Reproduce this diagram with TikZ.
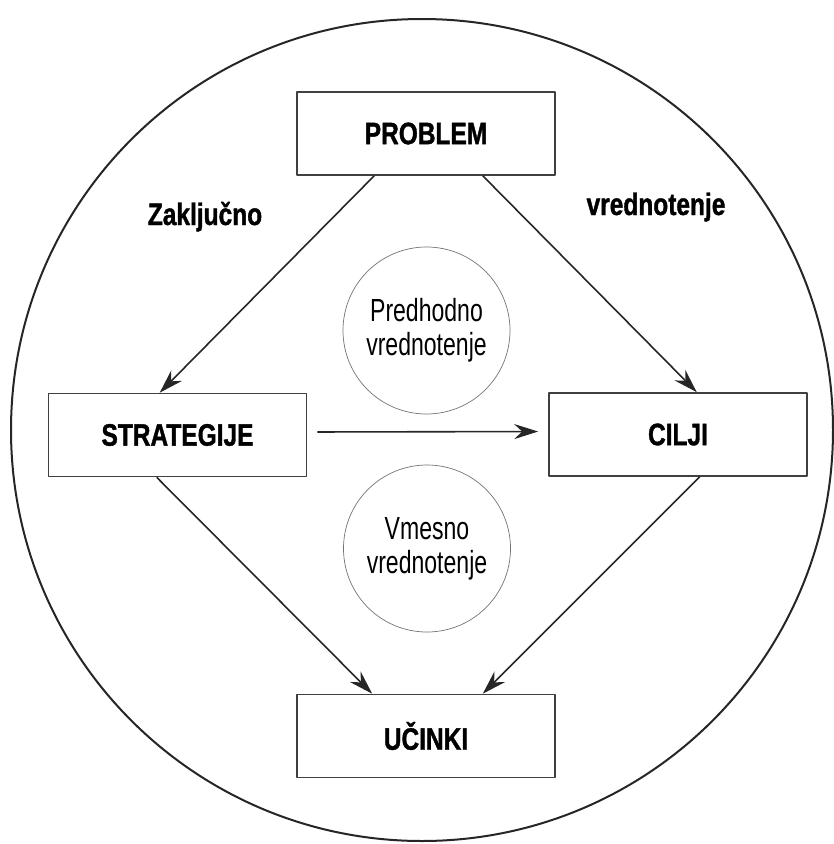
\documentclass[tikz,border=0pt]{standalone}
\usepackage{fontspec}
\setmainfont{Liberation Sans}[FakeStretch=0.72]
\newfontfamily\boldcond{Liberation Sans}[FakeStretch=0.79,BoldFeatures={FakeBold=1.2}]
\usetikzlibrary{arrows.meta}
\begin{document}
\begin{tikzpicture}[x=1pt,y=-1pt,line join=round,>={Stealth[length=24pt,width=15pt,inset=8pt]}]
    \tikzset{box style/.style={draw=black!75,line width=1.6pt,minimum width=258pt,minimum height=83pt,font=\boldcond\bfseries\fontsize{31}{34}\selectfont},
        eval style/.style={circle,draw=black!55,line width=0.7pt,minimum size=167pt,inner sep=0pt,align=center,font=\fontsize{32}{34}\selectfont},
        label style/.style={anchor=base,font=\boldcond\bfseries\fontsize{31}{34}\selectfont},
        arrow style/.style={->,draw=black!85,line width=1.6pt}}
    \useasboundingbox (0,0) rectangle (834,844);
    % outer circle
    \draw[line width=2pt,black!85] (422,430) circle [radius=411pt];
    % boxes
    \node[box style] (problem) at (426,133.5) {PROBLEM};
    \node[box style] (strategije) at (177.5,435) {STRATEGIJE};
    \node[box style] (cilji) at (678,434.5) {CILJI};
    \node[box style] (ucinki) at (426,736) {UČINKI};
    % evaluation circles
    \node[eval style] (predhodno) at (426.5,330.5) {Predhodno\\vrednotenje};
    \node[eval style] (vmesno) at (427,548.5) {Vmesno\\vrednotenje};
    % side labels
    \node[label style] (zakljucno) at (205,225) {Zaključno};
    \node[label style] (vrednotenje) at (656,215) {vrednotenje};
    % arrows
    \draw[arrow style] ([xshift=78pt]problem.south west) -- ([xshift=112pt]strategije.north west);
    \draw[arrow style] ([xshift=-73pt]problem.south east) -- ([xshift=-111pt]cilji.north east);
    \draw[arrow style,shorten <=10pt,shorten >=10pt] ([yshift=3pt]strategije.east) -- ([yshift=3pt]cilji.west);
    \draw[arrow style] ([xshift=109pt]strategije.south west) -- ([xshift=76pt]ucinki.north west);
    \draw[arrow style] ([xshift=-108pt]cilji.south east) -- ([xshift=-73pt]ucinki.north east);
\end{tikzpicture}
\end{document}
